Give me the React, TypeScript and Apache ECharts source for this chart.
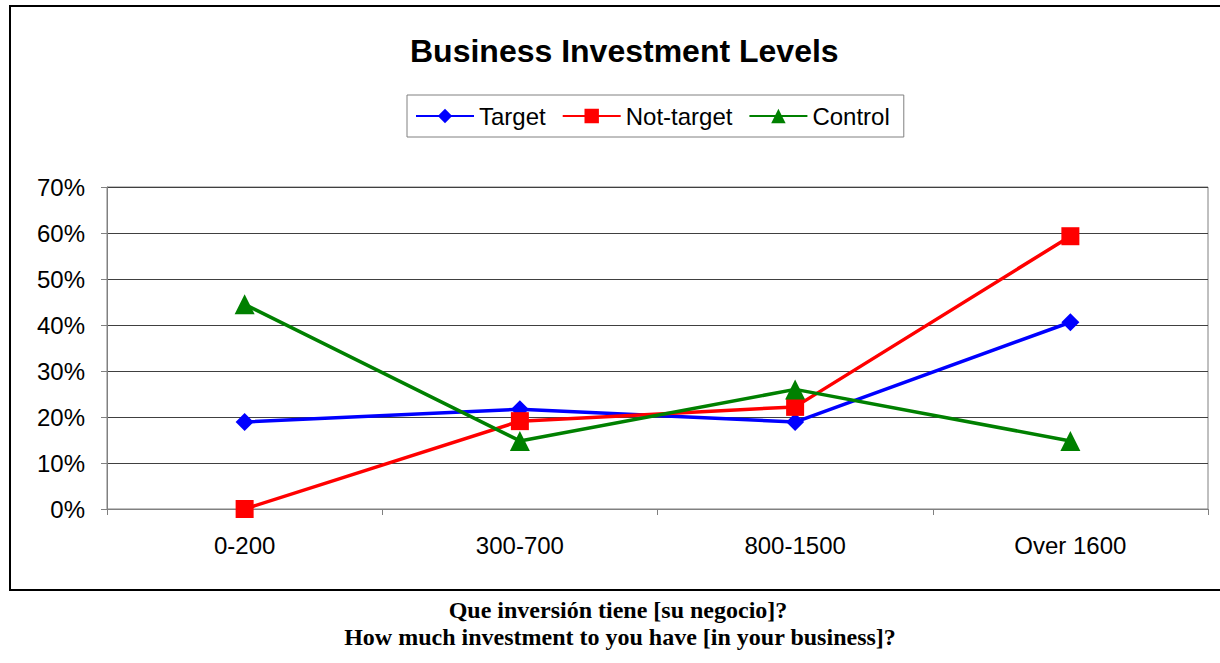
import React, { useEffect, useRef } from "react";
import * as echarts from "echarts";

const categories = ["0-200", "300-700", "800-1500", "Over 1600"];
const targetValues = [18.9, 21.7, 18.9, 40.6];
const notTargetValues = [0, 19.1, 22.2, 59.3];
const controlValues = [44.5, 14.8, 26.0, 14.8];
const yTicks = { min: 0, max: 70, interval: 10 };
const titleText = "Business Investment Levels";
const footLine1 = "Que inversión tiene [su negocio]?";
const footLine2 = "How much investment to you have [in your business]?";

export default function App() {
  const ref = useRef<HTMLDivElement>(null);
  useEffect(() => {
    if (!ref.current) return;
    const chart = echarts.init(ref.current, null, { renderer: "svg" });
    const font = "'Liberation Sans', Arial, sans-serif";
    const serif = "'Liberation Serif', 'Times New Roman', serif";
    chart.setOption({
      animation: false,
      backgroundColor: "#ffffff",
      title: {
        text: titleText,
        left: 405,
        top: 30,
        textStyle: { fontFamily: font, fontSize: 32, fontWeight: "bold", color: "#000" },
      },
      legend: {
        left: 407,
        top: 95,
        padding: [9, 14, 9, 8],
        itemGap: 16,
        itemWidth: 58,
        itemHeight: 18,
        borderColor: "#808080",
        borderWidth: 1,
        textStyle: { fontFamily: font, fontSize: 24, color: "#000" },
        data: ["Target", "Not-target", "Control"],
      },
      grid: { left: 107, right: 12, top: 187, bottom: 154, show: true, borderColor: "#808080", borderWidth: 1 },
      xAxis: {
        type: "category",
        data: categories,
        boundaryGap: true,
        axisLine: { lineStyle: { color: "#808080", width: 1 } },
        axisTick: { show: true, length: 6, lineStyle: { color: "#808080" } },
        axisLabel: { fontFamily: font, fontSize: 24, color: "#000", margin: 24 },
        splitLine: { show: false },
      },
      yAxis: {
        type: "value",
        min: yTicks.min,
        max: yTicks.max,
        interval: yTicks.interval,
        axisLine: { show: true, lineStyle: { color: "#808080", width: 1 } },
        axisTick: { show: true, length: 6, lineStyle: { color: "#808080" } },
        axisLabel: { fontFamily: font, fontSize: 24, color: "#000", margin: 22, formatter: "{value}%" },
        splitLine: { show: true, lineStyle: { color: "#404040", width: 1 } },
      },
      series: [
        {
          name: "Target",
          type: "line",
          data: targetValues,
          symbol: "diamond",
          symbolSize: 18,
          lineStyle: { color: "#0000ff", width: 3.5 },
          itemStyle: { color: "#0000ff" },
        },
        {
          name: "Not-target",
          type: "line",
          data: notTargetValues,
          symbol: "rect",
          symbolSize: 18,
          lineStyle: { color: "#ff0000", width: 3.5 },
          itemStyle: { color: "#ff0000" },
        },
        {
          name: "Control",
          type: "line",
          data: controlValues,
          symbol: "triangle",
          symbolSize: 20,
          lineStyle: { color: "#008000", width: 3.5 },
          itemStyle: { color: "#008000" },
        },
      ],
      graphic: [
        {
          type: "rect",
          shape: { x: 10, y: 6, width: 1220, height: 584 },
          style: { fill: "none", stroke: "#000", lineWidth: 2 },
          silent: true,
        },
        {
          type: "text",
          x: 618,
          y: 610,
          style: {
            text: footLine1,
            fontFamily: serif,
            fontSize: 24,
            fontWeight: "bold",
            fill: "#000",
            align: "center",
            verticalAlign: "middle",
          },
        },
        {
          type: "text",
          x: 620,
          y: 637,
          style: {
            text: footLine2,
            fontFamily: serif,
            fontSize: 24,
            fontWeight: "bold",
            fill: "#000",
            align: "center",
            verticalAlign: "middle",
          },
        },
      ],
    });
    return () => chart.dispose();
  }, []);
  return (
    <div
      ref={ref}
      style={{ position: "fixed", left: 0, top: 0, width: 1220, height: 663 }}
    />
  );
}
